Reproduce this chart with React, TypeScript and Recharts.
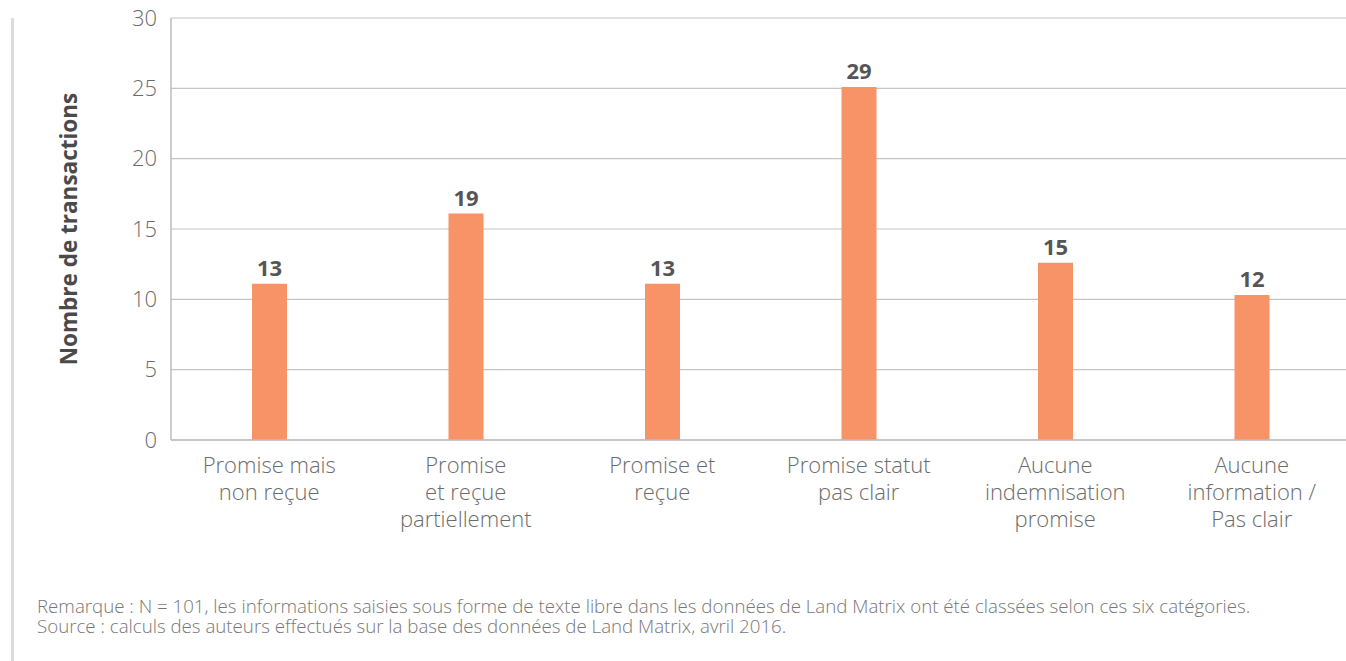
import React from "react";
import { BarChart, Bar, XAxis, YAxis, CartesianGrid, LabelList } from "recharts";

const categories = [
  ["Promise mais", "non reçue"],
  ["Promise", "et reçue", "partiellement"],
  ["Promise et", "reçue"],
  ["Promise statut", "pas clair"],
  ["Aucune", "indemnisation", "promise"],
  ["Aucune", "information /", "Pas clair"],
];
// bar heights as drawn in the source picture
const barHeights = [11.1, 16.1, 11.1, 25.1, 12.6, 10.3];
// printed value labels
const valueLabels = [13, 19, 13, 29, 15, 12];
const yTicks = [0, 5, 10, 15, 20, 25, 30];

const data = categories.map((c, i) => ({ name: c.join(" "), lines: c, v: barHeights[i], label: valueLabels[i] }));

const FONT = "'Open Sans', sans-serif";

function CatTick(props: any) {
  const { x, y, index } = props;
  const lines = categories[index] || [];
  return (
    <text x={x} y={y} textAnchor="middle" fill="#6b6b6b" fontSize={22} fontWeight={300} fontFamily={FONT}>
      {lines.map((l, i) => (
        <tspan key={i} x={x} dy={i === 0 ? 25 : 27}>{l}</tspan>
      ))}
    </text>
  );
}

function ValueLabel(props: any) {
  const { x, y, width, index } = props;
  return (
    <text x={x + width / 2} y={y - 8} textAnchor="middle" fill="#555" fontSize={22} fontWeight={700} fontFamily={FONT}>
      {valueLabels[index]}
    </text>
  );
}

export default function App() {
  return (
    <div style={{ position: "absolute", left: 0, top: 0, width: 1346, height: 661, overflow: "hidden", background: "#fff", fontFamily: FONT }}>
      <div style={{ position: "absolute", left: 11, top: 18, width: 3, height: 643, background: "#dcdcdc" }} />
      <div style={{ position: "absolute", left: 0, top: 0 }}>
        <BarChart width={1352} height={540} data={data} margin={{ top: 18, right: 2, left: 0, bottom: 0 }}>
          <CartesianGrid vertical={false} stroke="#c4c4c4" strokeWidth={1.2} />
          <XAxis dataKey="name" height={100} interval={0} tick={<CatTick />} tickLine={false} axisLine={{ stroke: "#bdbdbd", strokeWidth: 1.5 }} />
          <YAxis
            width={171}
            domain={[0, 30]}
            ticks={yTicks}
            tickLine={false}
            axisLine={{ stroke: "#bdbdbd", strokeWidth: 1.5 }}
            tick={{ fill: "#6b6b6b", fontSize: 22, fontWeight: 300, fontFamily: FONT }}
            tickMargin={8}
            label={{
              value: "Nombre de transactions",
              angle: -90,
              position: "insideLeft",
              dx: 64,
              style: { textAnchor: "middle", fill: "#4a4a4a", fontSize: 22.5, fontWeight: 700, fontFamily: FONT },
            }}
          />
          <Bar dataKey="v" fill="#f79366" barSize={35} isAnimationActive={false}>
            <LabelList dataKey="label" content={<ValueLabel />} />
          </Bar>
        </BarChart>
      </div>
      <div style={{ position: "absolute", left: 37, top: 596, fontSize: 18.7, lineHeight: "20px", color: "#777", fontWeight: 300 }}>
        <div>Remarque : N = 101, les informations saisies sous forme de texte libre dans les données de Land Matrix ont été classées selon ces six catégories.</div>
        <div>Source : calculs des auteurs effectués sur la base des données de Land Matrix, avril 2016.</div>
      </div>
    </div>
  );
}
